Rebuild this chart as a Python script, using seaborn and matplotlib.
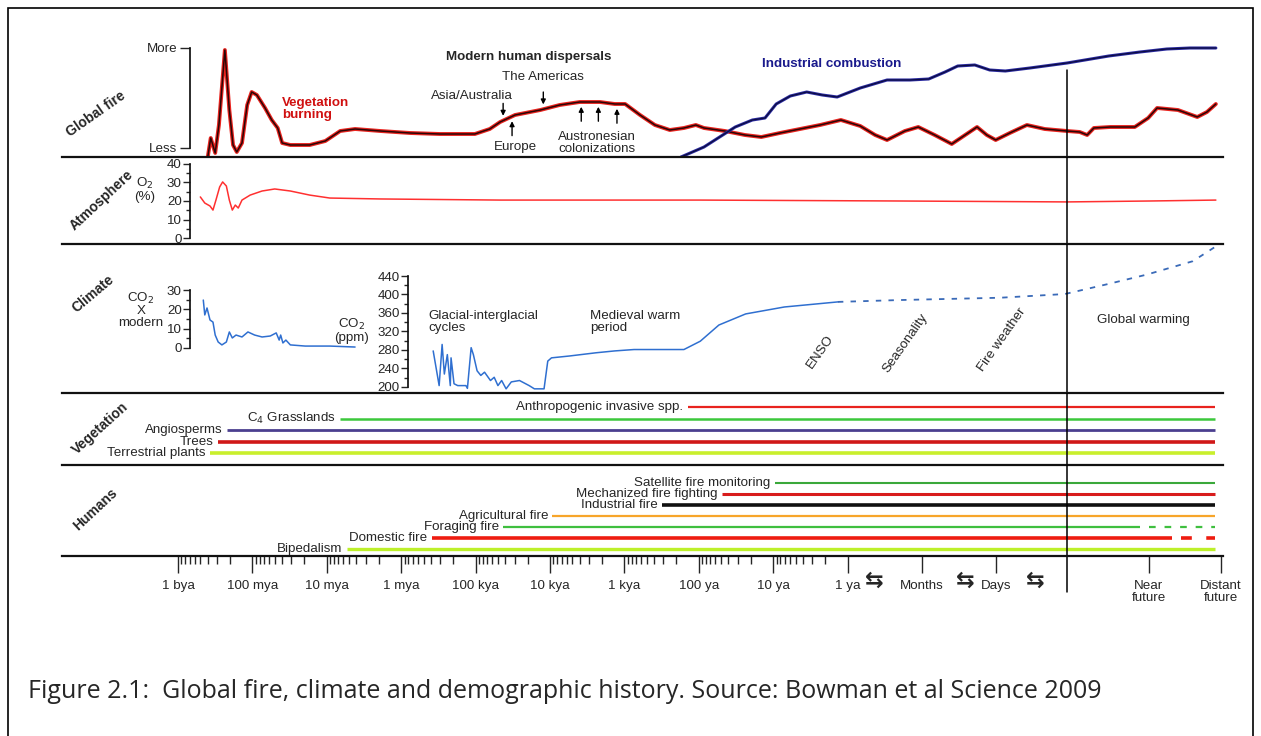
import numpy as np
import pandas as pd
import matplotlib
matplotlib.use("Agg")
import matplotlib.pyplot as plt
import matplotlib.patheffects as pe
from matplotlib.patches import Rectangle
import seaborn as sns

# time axis position: decades counted from 1 bya (0 = 1 bya, 9 = 1 ya, 10 = months, 11 = days)
# ---- Global fire (relative level, 0 = less, 1 = more)
fire_k = [0.40, 0.44, 0.50, 0.55, 0.63, 0.69, 0.74, 0.79, 0.86, 0.93, 0.99, 1.06, 1.17, 1.26,
          1.34, 1.40, 1.51, 1.77, 1.98, 2.18, 2.38, 2.72, 3.12, 3.52, 3.99, 4.19, 4.33, 4.53,
          4.87, 5.13, 5.40, 5.67, 5.87, 6.01, 6.21, 6.41, 6.61, 6.80, 6.96, 7.07, 7.35, 7.62,
          7.84, 8.09, 8.36, 8.63, 8.91, 9.17, 9.37, 9.53, 9.77, 9.95, 10.17, 10.40, 10.60,
          10.74, 10.87, 10.99, 11.18, 11.41, 11.65, 11.95, 12.12, 12.22, 12.31, 12.53, 12.86,
          13.04, 13.16, 13.44, 13.70, 13.83, 13.95]
fire_level = [-0.09, 0.10, -0.05, 0.23, 0.98, 0.38, 0.03, -0.04, 0.05, 0.43, 0.56, 0.53, 0.40,
              0.28, 0.20, 0.05, 0.03, 0.03, 0.07, 0.17, 0.19, 0.17, 0.15, 0.14, 0.14, 0.19, 0.26,
              0.33, 0.38, 0.43, 0.46, 0.46, 0.44, 0.44, 0.33, 0.23, 0.18, 0.20, 0.23, 0.20, 0.17,
              0.13, 0.11, 0.15, 0.19, 0.23, 0.28, 0.22, 0.13, 0.08, 0.17, 0.21, 0.13, 0.04, 0.14,
              0.21, 0.13, 0.08, 0.15, 0.23, 0.19, 0.17, 0.16, 0.13, 0.20, 0.21, 0.21, 0.30, 0.40,
              0.38, 0.31, 0.36, 0.44]
industrial_k = [6.76, 7.07, 7.28, 7.49, 7.72, 7.89, 8.04, 8.23, 8.45, 8.66, 8.86, 9.17, 9.53,
                9.84, 10.09, 10.31, 10.48, 10.71, 10.91, 11.12, 11.45, 11.95, 12.51, 12.93,
                13.29, 13.60, 13.95]
industrial_level = [-0.09, 0.01, 0.11, 0.21, 0.28, 0.30, 0.44, 0.52, 0.56, 0.53, 0.51, 0.60, 0.68,
                    0.68, 0.69, 0.76, 0.82, 0.83, 0.78, 0.77, 0.80, 0.85, 0.92, 0.96, 0.99,
                    1.00, 1.00]
dispersal_down_k = [4.37, 4.91]      # Asia/Australia, The Americas
dispersal_up_k = [4.49, 5.42, 5.65, 5.90]  # Europe, Austronesian colonizations

# ---- Atmosphere O2 (%)
o2_k = [0.30, 0.36, 0.43, 0.47, 0.51, 0.56, 0.60, 0.65, 0.69, 0.73, 0.77, 0.81, 0.86, 0.97,
        1.13, 1.30, 1.51, 1.77, 2.04, 2.72, 4.33, 7.02, 9.70, 11.95, 13.06, 13.95]
o2_pct = [22.2, 18.9, 17.3, 15.1, 20.5, 27.6, 30.3, 28.1, 20.5, 15.1, 17.8, 16.2, 20.5, 23.2,
          25.4, 26.5, 25.4, 23.2, 21.6, 21.1, 20.5, 20.5, 20.0, 19.5, 20.0, 20.5]

# ---- Climate: CO2 relative to modern
co2x_k = [0.34, 0.36, 0.39, 0.43, 0.47, 0.50, 0.54, 0.59, 0.65, 0.69, 0.73, 0.78, 0.86, 0.94,
          1.03, 1.13, 1.24, 1.32, 1.36, 1.38, 1.41, 1.45, 1.51, 1.71, 2.04, 2.38]
co2x_val = [24.8, 17.1, 20.7, 14.5, 13.4, 6.7, 3.1, 1.6, 3.1, 8.3, 5.2, 6.7, 5.7, 8.3, 6.7, 5.7,
            6.2, 7.8, 4.1, 6.7, 2.6, 4.1, 1.6, 1.0, 1.0, 0.5]
# ---- Climate: CO2 (ppm)
ppm_k = [3.43, 3.51, 3.55, 3.58, 3.62, 3.66, 3.67, 3.71, 3.76, 3.87, 3.89, 3.94, 3.97, 4.02,
         4.07, 4.12, 4.20, 4.25, 4.30, 4.35, 4.41, 4.48, 4.59, 4.72, 4.79, 4.92, 4.97, 5.02,
         5.26, 5.62, 5.87, 6.13, 6.48, 6.80, 7.02, 7.27, 7.63, 8.15, 8.87]
ppm_val = [278, 203, 292, 228, 270, 203, 263, 207, 203, 203, 197, 285, 270, 235, 225, 232, 214,
           221, 203, 214, 196, 211, 214, 203, 196, 196, 256, 263, 267, 274, 278, 281, 281, 281,
           299, 334, 358, 373, 384]
ppm_future_k = [8.87, 9.70, 11.05, 11.92, 12.51, 13.02, 13.64, 13.94]
ppm_future_val = [384, 388, 393, 401, 423, 443, 472, 503]

# ---- Vegetation timelines
veg_labels = ["Anthropogenic invasive spp.", "C$_4$ Grasslands", "Angiosperms", "Trees",
              "Terrestrial plants"]
veg_start = [6.85, 2.18, 0.66, 0.54, 0.43]
veg_colors = ["#e8231e", "#3cc83c", "#4b3f8f", "#d01818", "#c9ef2c"]
veg_widths = [1.6, 1.8, 2.0, 2.6, 2.6]

# ---- Human timelines (solid until solid_end, dashed afterwards)
hum_labels = ["Satellite fire monitoring", "Mechanized fire fighting", "Industrial fire",
              "Agricultural fire", "Foraging fire", "Domestic fire", "Bipedalism"]
hum_start = [8.02, 7.31, 6.51, 5.03, 4.37, 3.41, 2.27]
hum_solid_end = [13.94, 13.94, 13.94, 13.94, 12.93, 13.36, 13.94]
hum_colors = ["#3aa83a", "#d81c1c", "#111111", "#f7a52a", "#3fbf3f", "#ee1c10", "#bdf02a"]
hum_widths = [1.5, 2.2, 2.6, 1.6, 1.6, 2.6, 2.4]
timeline_end = 13.94

# ---- time axis
tick_k = [0, 1, 2, 3, 4, 5, 6, 7, 8, 9, 10, 11, 13.05, 14.02]
tick_labels = ["1 bya", "100 mya", "10 mya", "1 mya", "100 kya", "10 kya", "1 kya", "100 ya",
               "10 ya", "1 ya", "Months", "Days", "Near\nfuture", "Distant\nfuture"]
swap_k = [9.36, 10.58, 11.52]
present_k = 11.95

sns.set_theme(style="white")
plt.rcParams['font.family'] = ['Liberation Sans Narrow', 'Liberation Sans', 'DejaVu Sans']
plt.rcParams['axes.edgecolor'] = '#111111'

W, H = 1261, 736
fig = plt.figure(figsize=(W / 100, H / 100), dpi=100)


def box(left, top, right, bottom):
    return [left / W, 1 - bottom / H, (right - left) / W, (bottom - top) / H]


def kpx(px):
    return (px - 178) / 74.4


XL, XR = 62, 1223
XLIM = (kpx(XL), kpx(XR))
FS = 9.6


def setup(ax):
    ax.set_xlim(XLIM)
    for s in ['top', 'right', 'left']:
        ax.spines[s].set_visible(False)
    ax.spines['bottom'].set_linewidth(1.6)
    ax.set_xticks([])
    ax.set_facecolor('none')


# ---------------- Global fire
ax_fire = fig.add_axes(box(XL, 40, XR, 157))
setup(ax_fire)
ax_fire.set_ylim(-0.09, 1.08)
ax_fire.spines['left'].set_visible(True)
ax_fire.spines['left'].set_position(('data', kpx(190)))
ax_fire.spines['left'].set_bounds(0, 1)
ax_fire.set_yticks([0, 1], ["Less", "More"], fontsize=FS)
ax_fire.tick_params(axis='y', left=True, length=7, width=1, pad=2)

sns.lineplot(x=fire_k, y=fire_level, ax=ax_fire, sort=False, estimator=None,
             color='#2a0606', lw=1.1)
ax_fire.lines[-1].set_path_effects([pe.Stroke(linewidth=2.8, foreground='#e8231e'), pe.Normal()])
sns.lineplot(x=industrial_k, y=industrial_level, ax=ax_fire, sort=False, estimator=None,
             color='#0c0c40', lw=0.9)
ax_fire.lines[-1].set_path_effects([pe.Stroke(linewidth=2.2, foreground='#2a2aa0'), pe.Normal()])

for k in dispersal_down_k:
    y0 = float(np.interp(k, fire_k, fire_level))
    ax_fire.annotate('', xy=(k, y0 + 0.02), xytext=(k, y0 + 0.2),
                     arrowprops=dict(arrowstyle='-|>', color='black', lw=1, mutation_scale=7))
for k in dispersal_up_k:
    y0 = float(np.interp(k, fire_k, fire_level))
    ax_fire.annotate('', xy=(k, y0 - 0.02), xytext=(k, y0 - 0.22),
                     arrowprops=dict(arrowstyle='-|>', color='black', lw=1, mutation_scale=7))

ax_fire.text(4.72, 0.91, "Modern human dispersals", ha='center', va='center', fontsize=FS,
             fontweight='bold')
ax_fire.text(4.91, 0.71, "The Americas", ha='center', va='center', fontsize=FS)
ax_fire.text(3.95, 0.52, "Asia/Australia", ha='center', va='center', fontsize=FS)
ax_fire.text(4.53, 0.01, "Europe", ha='center', va='center', fontsize=FS)
ax_fire.text(5.63, 0.055, "Austronesian\ncolonizations", ha='center', va='center', fontsize=FS,
             linespacing=1.0)
ax_fire.text(1.40, 0.39, "Vegetation\nburning", ha='left', va='center', fontsize=FS,
             fontweight='bold', color='#d01010', linespacing=1.0)
ax_fire.text(7.85, 0.84, "Industrial combustion", ha='left', va='center', fontsize=FS,
             fontweight='bold', color='#1a1a8c')
ax_fire.axvline(present_k, ymin=0, ymax=0.744, color='black', lw=1.1)

# ---------------- Atmosphere
ax_atm = fig.add_axes(box(XL, 157, XR, 244))
setup(ax_atm)
ax_atm.set_ylim(-3.24, 43.78)
ax_atm.spines['left'].set_visible(True)
ax_atm.spines['left'].set_position(('data', kpx(190)))
ax_atm.spines['left'].set_bounds(0, 40)
ax_atm.set_yticks([0, 10, 20, 30, 40])
ax_atm.set_yticks([5, 15, 25, 35], minor=True)
ax_atm.tick_params(axis='y', which='both', left=True, labelsize=FS, pad=1)
ax_atm.tick_params(axis='y', which='major', length=5, width=1)
ax_atm.tick_params(axis='y', which='minor', length=3, width=1)
sns.lineplot(x=o2_k, y=o2_pct, ax=ax_atm, sort=False, estimator=None, color='#ff3030', lw=1.1)
ax_atm.text(kpx(145), 26, "O$_2$\n(%)", ha='center', va='center', fontsize=FS, linespacing=1.0)
ax_atm.axvline(present_k, color='black', lw=1.1)

# ---------------- Climate
ax_clim = fig.add_axes(box(XL, 244, XR, 393))
setup(ax_clim)
ax_clim.set_ylim(187.0, 509.2)
ax_clim.spines['left'].set_visible(True)
ax_clim.spines['left'].set_position(('data', kpx(408)))
ax_clim.spines['left'].set_bounds(200, 440)
ax_clim.set_yticks(range(200, 441, 40))
ax_clim.set_yticks(range(220, 440, 40), minor=True)
ax_clim.tick_params(axis='y', which='both', left=True, labelsize=FS, pad=1)
ax_clim.tick_params(axis='y', which='major', length=5, width=1)
ax_clim.tick_params(axis='y', which='minor', length=3, width=1)
sns.lineplot(x=ppm_k, y=ppm_val, ax=ax_clim, sort=False, estimator=None, color='#2f6fd0', lw=1.1)
sns.lineplot(x=ppm_future_k, y=ppm_future_val, ax=ax_clim, sort=False, estimator=None,
             color='#3a6ab8', lw=1.3)
ax_clim.lines[-1].set_dashes((3, 4))
ax_clim.lines[-1].set_clip_on(False)
ax_clim.text(kpx(352), 323, "CO$_2$\n(ppm)", ha='center', va='center', fontsize=FS, linespacing=1.0)
ax_clim.text(3.36, 340, "Glacial-interglacial\ncycles", ha='left', va='center', fontsize=FS,
             linespacing=1.0)
ax_clim.text(5.54, 340, "Medieval warm\nperiod", ha='left', va='center', fontsize=FS,
             linespacing=1.0)
ax_clim.text(8.63, 276, "ENSO", ha='center', va='center', fontsize=FS, rotation=55)
ax_clim.text(9.77, 295, "Seasonality", ha='center', va='center', fontsize=FS, rotation=55)
ax_clim.text(11.08, 302, "Fire weather", ha='center', va='center', fontsize=FS, rotation=55)
ax_clim.text(12.97, 345, "Global warming", ha='center', va='center', fontsize=FS)
ax_clim.axvline(present_k, color='black', lw=1.1)

ax_co2x = ax_clim.twinx()
ax_co2x.set_xlim(XLIM)
ax_co2x.set_ylim(-23.28, 53.8)
for s in ['top', 'right', 'bottom']:
    ax_co2x.spines[s].set_visible(False)
ax_co2x.spines['left'].set_visible(True)
ax_co2x.spines['left'].set_position(('data', kpx(190)))
ax_co2x.spines['left'].set_bounds(0, 30)
ax_co2x.yaxis.set_ticks_position('left')
ax_co2x.set_yticks([0, 10, 20, 30])
ax_co2x.set_yticks([5, 15, 25], minor=True)
ax_co2x.tick_params(axis='y', which='both', left=True, right=False, labelleft=True,
                    labelright=False, labelsize=FS, pad=1)
ax_co2x.tick_params(axis='y', which='major', length=5, width=1)
ax_co2x.tick_params(axis='y', which='minor', length=3, width=1)
sns.lineplot(x=co2x_k, y=co2x_val, ax=ax_co2x, sort=False, estimator=None, color='#2f6fd0',
             lw=1.1)
ax_co2x.text(kpx(141), 19.7, "CO$_2$\nX\nmodern", ha='center', va='center', fontsize=FS,
             linespacing=0.95)
ax_co2x.set_ylabel('')

# ---------------- Vegetation
ax_veg = fig.add_axes(box(XL, 393, XR, 465))
setup(ax_veg)
ax_veg.set_ylim(5.04, -1.22)
ax_veg.set_yticks([])
for i, (lab, st, c, w) in enumerate(zip(veg_labels, veg_start, veg_colors, veg_widths)):
    ax_veg.hlines(i, st, timeline_end, color=c, lw=w)
    ax_veg.annotate(lab, xy=(st, i), xytext=(-3, 0), textcoords='offset points', ha='right',
                    va='center', fontsize=FS)
ax_veg.axvline(present_k, color='black', lw=1.1)

# ---------------- Humans
HB = 556
ax_hum = fig.add_axes(box(XL, 465, XR, HB))
setup(ax_hum)
ax_hum.set_ylim((HB - 483) / 11, -1.64)
ax_hum.set_yticks([])
for i, (lab, st, se, c, w) in enumerate(zip(hum_labels, hum_start, hum_solid_end, hum_colors,
                                            hum_widths)):
    ax_hum.hlines(i, st, se, color=c, lw=w)
    if se < timeline_end:
        ax_hum.hlines(i, se + 0.12, timeline_end, color=c, lw=w, linestyles=(0, (3, 4)))
    ax_hum.annotate(lab, xy=(st, i), xytext=(-3, 0), textcoords='offset points', ha='right',
                    va='center', fontsize=FS)
hh = HB - 465
ax_hum.axvline(present_k, ymin=(HB - 592) / hh, ymax=1, color='black', lw=1.1, clip_on=False)

minor = [d + 1 - np.log10(m) for d in range(9) for m in range(2, 10)]
ax_hum.set_xticks(tick_k, tick_labels, fontsize=FS, linespacing=1.0)
ax_hum.set_xticks(minor, minor=True)
ax_hum.tick_params(axis='x', which='major', bottom=True, length=12, width=1, pad=5)
ax_hum.tick_params(axis='x', which='minor', bottom=True, length=6, width=1)
for k in swap_k:
    ax_hum.text(k, (HB - 581) / hh, "\u21c6", transform=ax_hum.get_xaxis_transform(),
                ha='center', va='center', fontsize=16, fontweight='bold', family=['DejaVu Sans'])

# ---------------- panel titles
for label, (px, py), rot in [("Global fire", (96, 114), 35), ("Atmosphere", (102, 200), 43),
                             ("Climate", (93, 294), 40), ("Vegetation", (100, 428), 42),
                             ("Humans", (95, 509), 43)]:
    fig.text(px / W, 1 - py / H, label, rotation=rot, ha='center', va='center', fontsize=10,
             fontweight='bold')

fig.text(28 / W, 1 - 692 / H,
         "Figure 2.1:  Global fire, climate and demographic history. Source: Bowman et al Science 2009",
         ha='left', va='center', fontsize=18, family=['Open Sans', 'DejaVu Sans'])

fig.add_artist(Rectangle((8 / W, -0.05), (1253 - 8) / W, 1.05 - 8 / H, transform=fig.transFigure,
                         fill=False, edgecolor='black', lw=1.2, clip_on=False))

fig.savefig("out.png", dpi=100)
